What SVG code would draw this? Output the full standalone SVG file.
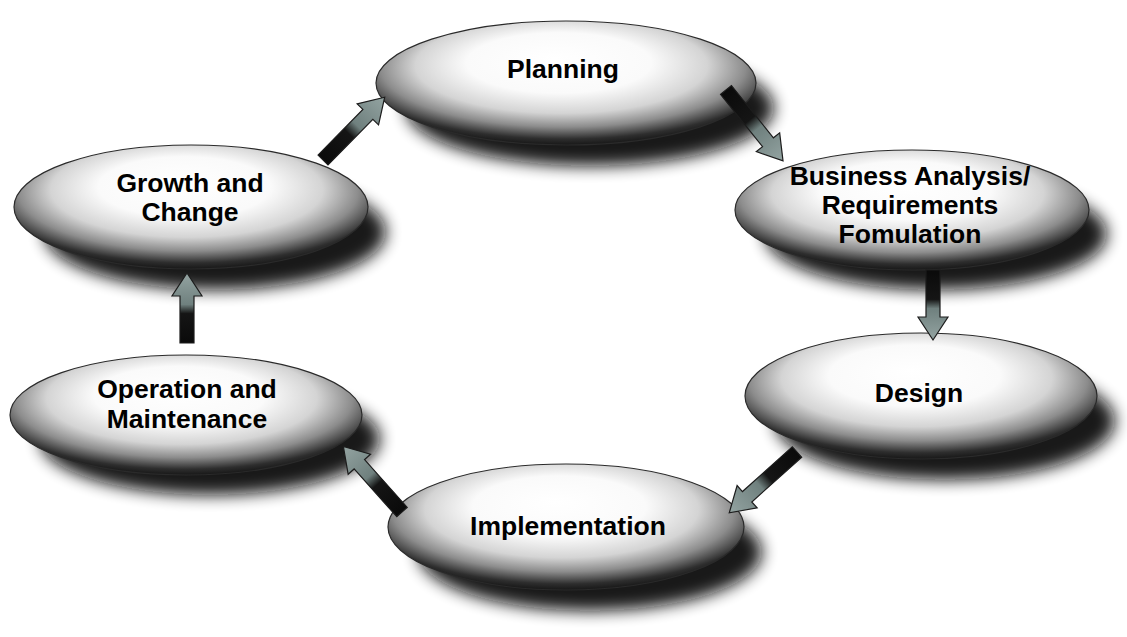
<svg xmlns="http://www.w3.org/2000/svg" width="1127" height="637" viewBox="0 0 1127 637">
  <defs>
    <radialGradient id="egrad" cx="0.5" cy="0.4" r="0.64" fx="0.47" fy="0.3">
      <stop offset="0" stop-color="#ffffff"/>
      <stop offset="0.38" stop-color="#fafafa"/>
      <stop offset="0.6" stop-color="#d4d4d4"/>
      <stop offset="0.75" stop-color="#8c8c8c"/>
      <stop offset="0.88" stop-color="#2e2e2e"/>
      <stop offset="1" stop-color="#050505"/>
    </radialGradient>
    <linearGradient id="agrad" x1="0" y1="0" x2="1" y2="0">
      <stop offset="0" stop-color="#0a0a0a"/>
      <stop offset="0.42" stop-color="#151515"/>
      <stop offset="0.55" stop-color="#6f807e"/>
      <stop offset="1" stop-color="#94a4a2"/>
    </linearGradient>
    <filter id="blur" x="-30%" y="-50%" width="160%" height="200%">
      <feGaussianBlur stdDeviation="8"/>
    </filter>
  </defs>
  <style>
    .shadow { fill: #0a0a0a; opacity: 0.95; filter: url(#blur); }
    .ell { fill: url(#egrad); stroke: #2a2a2a; stroke-width: 1.2; }
    .lbl { font-family: "Liberation Sans", Arial, sans-serif; font-weight: bold; font-size: 26.5px; fill: #000; text-anchor: middle; }
    .arrow { fill: url(#agrad); stroke: #1c1c1c; stroke-width: 1.2; stroke-linejoin: miter; }
  </style>
  <rect width="1127" height="637" fill="#ffffff"/>

  <g id="node-planning">
    <ellipse class="shadow" cx="590" cy="108" rx="184" ry="58"/>
    <ellipse class="ell" cx="566" cy="83" rx="190" ry="62"/>
    <text class="lbl" x="563" y="78">Planning</text>
  </g>
  <g id="node-business">
    <ellipse class="shadow" cx="936" cy="234" rx="171" ry="56"/>
    <ellipse class="ell" cx="912" cy="210" rx="177" ry="60"/>
    <text class="lbl" x="910" y="185">Business Analysis/</text>
    <text class="lbl" x="910" y="214">Requirements</text>
    <text class="lbl" x="910" y="243">Fomulation</text>
  </g>
  <g id="node-design">
    <ellipse class="shadow" cx="945" cy="421" rx="170" ry="59"/>
    <ellipse class="ell" cx="921" cy="396" rx="176" ry="63"/>
    <text class="lbl" x="919" y="402">Design</text>
  </g>
  <g id="node-implementation">
    <ellipse class="shadow" cx="590" cy="552" rx="172" ry="59"/>
    <ellipse class="ell" cx="566" cy="527" rx="178" ry="63"/>
    <text class="lbl" x="568" y="535">Implementation</text>
  </g>
  <g id="node-operation">
    <ellipse class="shadow" cx="210" cy="439" rx="170" ry="56"/>
    <ellipse class="ell" cx="186" cy="415" rx="176" ry="60"/>
    <text class="lbl" x="187" y="398">Operation and</text>
    <text class="lbl" x="187" y="428">Maintenance</text>
  </g>
  <g id="node-growth">
    <ellipse class="shadow" cx="215" cy="232" rx="171" ry="58"/>
    <ellipse class="ell" cx="191" cy="207" rx="177" ry="62"/>
    <text class="lbl" x="190" y="192">Growth and</text>
    <text class="lbl" x="190" y="221">Change</text>
  </g>

  <g id="connectors">
    <!-- Growth -> Planning -->
    <path class="arrow" transform="translate(323,160) rotate(-45.5)" d="M0,-7 L64,-7 L64,-15 L88,0 L64,15 L64,7 L0,7 Z"/>
    <!-- Planning -> Business -->
    <path class="arrow" transform="translate(726,90) rotate(51.2)" d="M0,-7 L67,-7 L67,-15 L91,0 L67,15 L67,7 L0,7 Z"/>
    <!-- Business -> Design -->
    <path class="arrow" transform="translate(933,270) rotate(90)" d="M0,-7 L47,-7 L47,-15 L70,0 L47,15 L47,7 L0,7 Z"/>
    <!-- Design -> Implementation -->
    <path class="arrow" transform="translate(797,452) rotate(138.1)" d="M0,-7 L67,-7 L67,-15 L91,0 L67,15 L67,7 L0,7 Z"/>
    <!-- Implementation -> Operation -->
    <path class="arrow" transform="translate(402,512) rotate(-131.8)" d="M0,-7 L64,-7 L64,-15 L88,0 L64,15 L64,7 L0,7 Z"/>
    <!-- Operation -> Growth -->
    <path class="arrow" transform="translate(187,343) rotate(-90)" d="M0,-7 L47,-7 L47,-15 L70,0 L47,15 L47,7 L0,7 Z"/>
  </g>
</svg>
